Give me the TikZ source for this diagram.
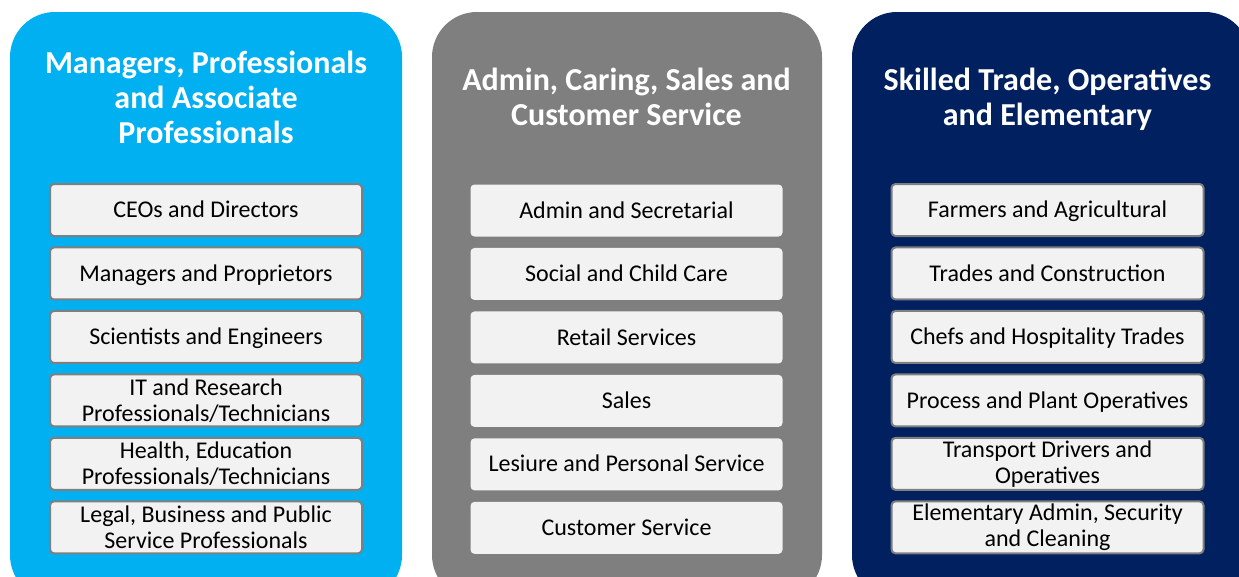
\documentclass[tikz,border=0pt]{standalone}
\usepackage{fontspec}
\setmainfont{Carlito}
\usetikzlibrary{positioning}
\definecolor{mgrblue}{HTML}{00B0F0}
\definecolor{admgray}{HTML}{7F7F7F}
\definecolor{trdnavy}{HTML}{002060}
\definecolor{boxfill}{HTML}{F2F2F2}
\definecolor{boxline}{HTML}{7F7F7F}
\tikzset{
  panel/.style={rounded corners=33.75pt},
  paneltitle/.style={text=white, align=center, font=\fontsize{24}{26.25}\selectfont\bfseries},
  jobbox/.style={fill=boxfill, draw=boxline, line width=1.5pt, rounded corners=3pt,
    minimum width=234pt, minimum height=39pt, inner sep=0pt, align=center,
    font=\fontsize{18}{19.5}\selectfont},
  plainbox/.style={jobbox, draw=none},
  oneline/.style={text height=14.8pt, text depth=3.4pt},
}
\begin{document}
\begin{tikzpicture}[x=0.75pt,y=-0.75pt, node distance=7.1pt]
% ==========================================
\useasboundingbox (0,0) rectangle (1239,576);
\clip (0,0) rectangle (1239,576);
%
\fill[mgrblue, panel] (10,12) rectangle (402,600);
\fill[admgray, panel] (432,12) rectangle (822,600);
\fill[trdnavy, panel] (852,12) rectangle (1250,600);
%
\node[paneltitle] (mgrtitle) at (206,97) {Managers, Professionals\\and Associate\\Professionals};
\node[paneltitle] (admtitle) at (626.5,97) {Admin, Caring, Sales and\\Customer Service};
\node[paneltitle] (trdtitle) at (1047.5,99) {Skilled Trade, Operatives\\and Elementary};
% =============================================
\node[jobbox, oneline] (mgr1) at (206,210) {CEOs and Directors};
\node[jobbox, oneline, below=of mgr1] (mgr2) {Managers and Proprietors};
\node[jobbox, oneline, below=of mgr2] (mgr3) {Scientists and Engineers};
\node[jobbox, below=of mgr3] (mgr4) {IT and Research\\Professionals/Technicians};
\node[jobbox, below=of mgr4] (mgr5) {Health, Education\\Professionals/Technicians};
\node[jobbox, below=of mgr5] (mgr6) {Legal, Business and Public\\Service Professionals};
%
\node[plainbox, oneline] (adm1) at (626.5,210.5) {Admin and Secretarial};
\node[plainbox, oneline, below=of adm1] (adm2) {Social and Child Care};
\node[plainbox, oneline, below=of adm2] (adm3) {Retail Services};
\node[plainbox, oneline, below=of adm3] (adm4) {Sales};
\node[plainbox, oneline, below=of adm4] (adm5) {Lesiure and Personal Service};
\node[plainbox, oneline, below=of adm5] (adm6) {Customer Service};
%
\node[jobbox, oneline] (trd1) at (1047.5,210) {Farmers and Agricultural};
\node[jobbox, oneline, below=of trd1] (trd2) {Trades and Construction};
\node[jobbox, oneline, below=of trd2] (trd3) {Chefs and Hospitality Trades};
\node[jobbox, oneline, below=of trd3] (trd4) {Process and Plant Operatives};
\node[jobbox, below=of trd4] (trd5) {Transport Drivers and\\Operatives};
\node[jobbox, below=of trd5] (trd6) {Elementary Admin, Security\\and Cleaning};
% =============================================
\end{tikzpicture}
\end{document}
